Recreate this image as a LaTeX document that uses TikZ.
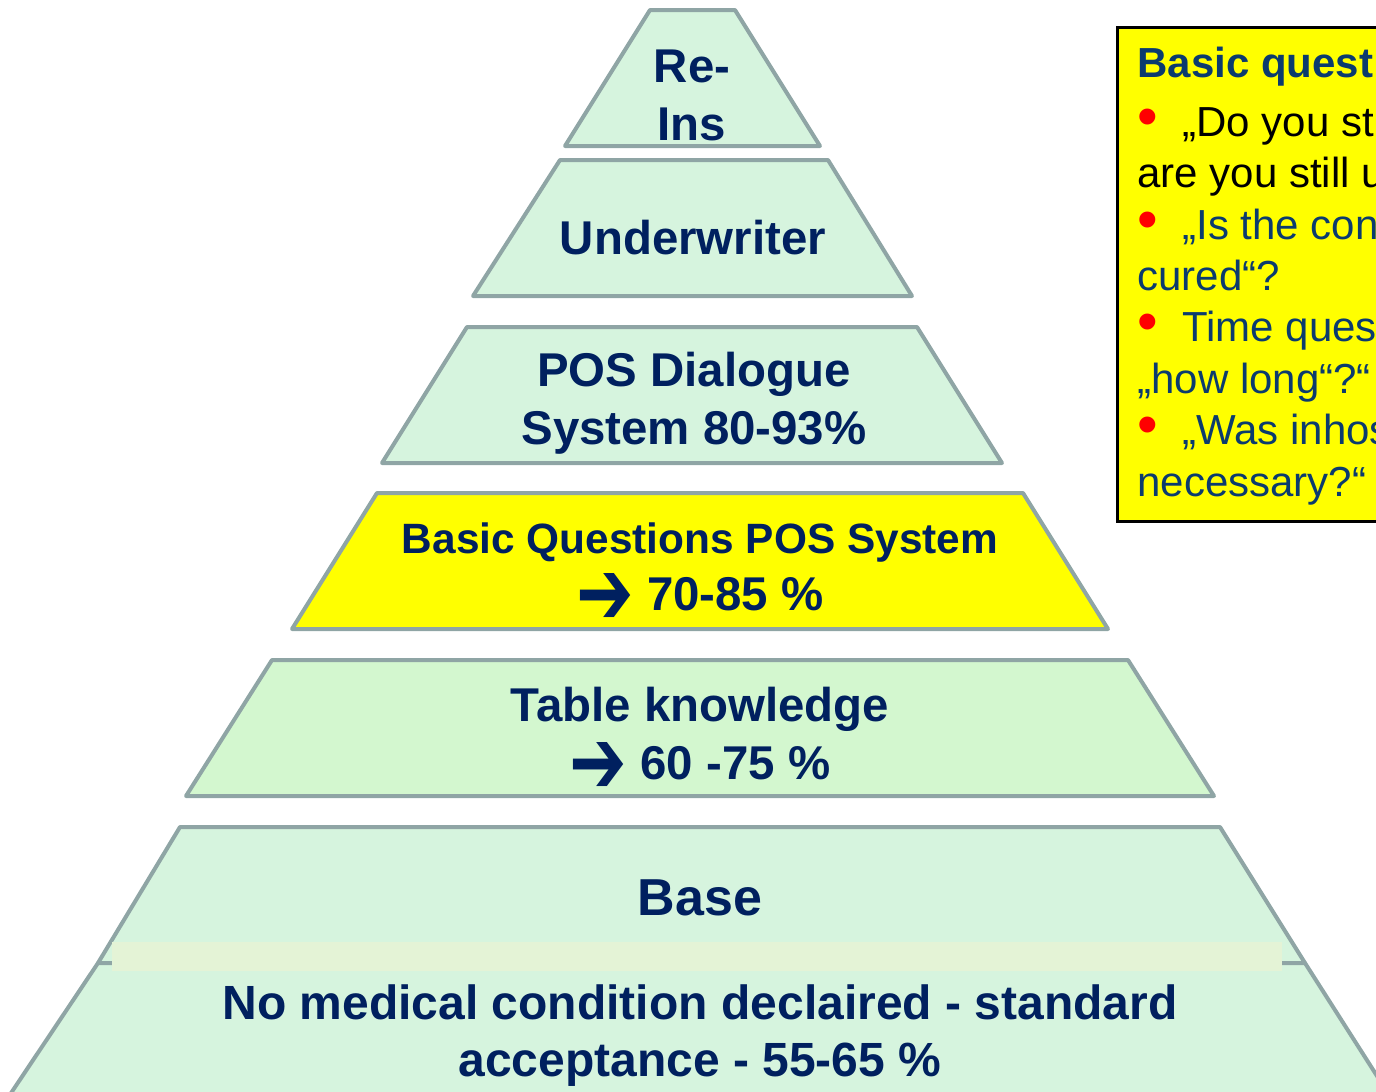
\documentclass[tikz,border=0pt]{standalone}
\usepackage{fontspec}
\usepackage{graphicx}
\setmainfont{Liberation Sans}
\newfontfamily\symfont{DejaVu Sans}
\definecolor{mint}{HTML}{D6F4DE}
\definecolor{tablegreen}{HTML}{D3F7CF}
\definecolor{bandgreen}{HTML}{E4F3D6}
\definecolor{edgegray}{HTML}{8FA5A5}
\definecolor{navy}{HTML}{00205F}
\definecolor{boxblue}{HTML}{0B3B6E}
\definecolor{hiyellow}{HTML}{FFFF00}
\newcommand{\qbullet}{\makebox[22.5pt][l]{\raisebox{0pt}[0pt][0pt]{\scalebox{1.4}{\textcolor{red}{•}}}}}
\newcommand{\warrow}{\raisebox{-7pt}[0pt][0pt]{\scalebox{1.45}[1.95]{\symfont ➔}}}
\tikzset{
  level/.style={draw=edgegray, line width=2pt, line join=round},
  lvltext/.style={text=navy, font=\bfseries\fontsize{23.7}{29}\selectfont, align=center, inner sep=0pt},
}
\begin{document}
\begin{tikzpicture}[x=0.5pt,y=-0.5pt]
\useasboundingbox (0,0) rectangle (1376,1092);
\clip (0,0) rectangle (1376,1092);
% pyramid levels, top to bottom
\draw[level, fill=mint] (650,10) -- (735,10) -- (820,146) -- (565,146) -- cycle;
\draw[level, fill=mint] (560,160) -- (828,160) -- (912,296) -- (473,296) -- cycle;
\draw[level, fill=mint] (467,327) -- (917,327) -- (1002,463) -- (382,463) -- cycle;
\draw[level, fill=hiyellow] (377,493) -- (1023,493) -- (1108,629) -- (292,629) -- cycle;
\draw[level, fill=tablegreen] (272,660) -- (1128,660) -- (1214,796) -- (186,796) -- cycle;
% base, two parts
\draw[level, fill=mint] (180,827) -- (1220,827) -- (1305,963) -- (98,963) -- cycle;
\draw[level, fill=mint] (98,963) -- (1305,963) -- (1407,1123) -- (-9,1123) -- cycle;
\fill[bandgreen] (112,942) rectangle (1282,971);
% level texts
\node[lvltext] (reins) at (692,95) {Re-\\Ins};
\node[lvltext] (underwriter) at (693,238) {Underwriter};
\node[lvltext] (dialogue) at (694,403) {POS Dialogue\\System 80-93\%};
\node[lvltext, font=\bfseries\fontsize{21.2}{28.5}\selectfont] (basicq) at (700,567) {Basic Questions POS System\\{\fontsize{23.7}{28.5}\selectfont\warrow\ 70-85 \%}};
\node[lvltext] (table) at (700,734) {Table knowledge\\\warrow\ 60 -75 \%};
\node[lvltext, font=\bfseries\fontsize{26}{29}\selectfont] (base) at (700,898) {Base};
\node[lvltext, font=\bfseries\fontsize{24}{28.5}\selectfont] (standard) at (700,1036) {No medical condition declaired - standard\\acceptance - 55-65 \%};
% question box
\draw[fill=hiyellow, line width=1.5pt] (1117,27) rectangle (1420,521);
\node[anchor=north west, inner sep=0pt, align=left, text=boxblue,
  font=\fontsize{21}{25.7}\selectfont] (questions) at (1137,47)
  {{\bfseries Basic quest}\\[3.5pt]
   \qbullet\textcolor{black}{„Do you st}\\
   \textcolor{black}{are you still u}\\
   \qbullet„Is the con\\
   cured“?\\
   \qbullet Time quest\\
   „how long“?“\\
   \qbullet„Was inhos\\
   necessary?“};
\end{tikzpicture}
\end{document}
